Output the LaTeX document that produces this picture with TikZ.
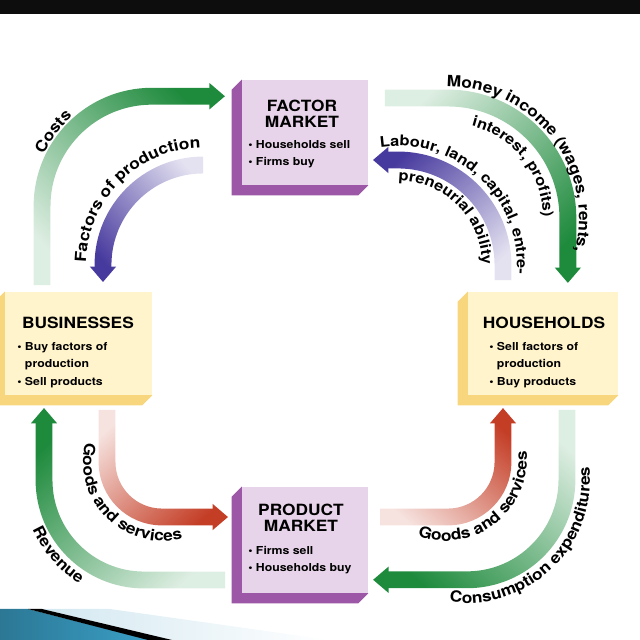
\documentclass[tikz,border=0pt]{standalone}
\usepackage{fontspec}
\setmainfont{TeX Gyre Heros}[FakeStretch=1.12]
\usetikzlibrary{arrows.meta,positioning,calc,fadings,decorations.text,backgrounds}

\definecolor{mktface}{HTML}{E8D4EA}
\definecolor{mktside}{HTML}{9C58A6}
\definecolor{hhface}{HTML}{FFF4CC}
\definecolor{hhside}{HTML}{F7D67D}
\definecolor{flowgreen}{HTML}{1E8A3C}
\definecolor{flowpurple}{HTML}{473A9E}
\definecolor{flowred}{HTML}{C43D25}
\definecolor{stripeblue}{HTML}{3A9FC6}
\definecolor{stripelight}{HTML}{D3E8F1}

\newcommand\ttlfont{\fontsize{11}{11.2}\selectfont\bfseries}
\newcommand\itmfont{\fontsize{7.8}{12.5}\selectfont\bfseries}
\newcommand\lblfont{\fontsize{11}{12}\selectfont\bfseries}
\newcommand\lblsmall{\fontsize{10.4}{12}\selectfont\bfseries}

\tikzfading[name=flowfade, left color=transparent!85, right color=transparent!0]

\tikzset{
  box/.style={rectangle, inner sep=0pt},
  ttl/.style={font=\ttlfont, align=center, inner sep=0pt},
  itm/.style={font=\itmfont, align=left, inner sep=0pt, anchor=west},
  flow/.style={line width=12pt, -{Triangle[width=18pt,length=11pt]}, path fading=flowfade},
  lbl/.style={decorate, decoration={text along path, text align=center}},
}

\begin{document}
\begin{tikzpicture}[x=0.025cm, y=0.025cm]
        \useasboundingbox (0,0) rectangle (640,640);
        \fill[black!95] (0,626) rectangle (640,640);

        % the four boxes
        \node[box, fill=mktface, minimum width=3.15cm, minimum height=2.625cm] (factor) at (305,507.5) {};
        \node[box, fill=hhface, minimum width=3.675cm, minimum height=2.575cm] (bus) at (78.5,296.5) {};
        \node[box, fill=hhface, minimum width=3.75cm, minimum height=2.575cm] (hh) at (543,296.5) {};
        \node[box, fill=mktface, minimum width=3.15cm, minimum height=2.65cm] (prod) at (305,100) {};

        \begin{scope}[on background layer]
                \foreach \n/\c in {factor/mktside, prod/mktside, bus/hhside, hh/hhside}{
                        \fill[\c] (\n.north west) -- ++(-10,-10) |- ($(\n.south east)+(-10,-10)$) -- (\n.south east) -- cycle;
                }
        \end{scope}

        \node[ttl] (factor-t) at (302,526.5) {FACTOR\\MARKET};
        \node[itm] (factor-l) at (248,486) {\textbullet\ Households sell\\\textbullet\ Firms buy};
        \node[ttl] (bus-t) at (78,317) {BUSINESSES};
        \node[itm] (bus-l) at (17,275) {\textbullet\ Buy factors of\\\hphantom{\textbullet\ }production\\\textbullet\ Sell products};
        \node[ttl] (hh-t) at (544,317) {HOUSEHOLDS};
        \node[itm] (hh-l) at (489,275) {\textbullet\ Sell factors of\\\hphantom{\textbullet\ }production\\\textbullet\ Buy products};
        \node[ttl] (prod-t) at (301,122.5) {PRODUCT\\MARKET};
        \node[itm] (prod-l) at (248,80) {\textbullet\ Firms sell\\\textbullet\ Households buy};

        % flow ends
        \coordinate (costs-s) at (42,355);   \coordinate (costs-e) at (225,544);
        \coordinate (fop-s) at (203,475);    \coordinate (fop-e) at (103,358);
        \coordinate (inc-s) at (385,542);    \coordinate (inc-e) at (568,357);
        \coordinate (lab-s) at (503,360);    \coordinate (lab-e) at (373,480);
        \coordinate (gl-s) at (107,230);     \coordinate (gl-e) at (228,123);
        \coordinate (rev-s) at (225,60);     \coordinate (rev-e) at (44,232);
        \coordinate (gr-s) at (380,123);     \coordinate (gr-e) at (503,232);
        \coordinate (con-s) at (567,230);    \coordinate (con-e) at (373,60);

        \draw[flow, flowgreen, rounded corners=2.75cm, fading angle=45] (costs-s) |- (costs-e);
        \draw[flow, flowpurple, rounded corners=2.5cm, fading angle=225] (fop-s) -| (fop-e);
        \draw[flow, flowgreen, rounded corners=3cm, fading angle=-45] (inc-s) -| (inc-e);
        \draw[flow, flowpurple, rounded corners=2.625cm, fading angle=135] (lab-s) |- (lab-e);
        \draw[flow, flowred, rounded corners=1.375cm, fading angle=-45] (gl-s) |- (gl-e);
        \draw[flow, flowgreen, rounded corners=2.5cm, fading angle=135] (rev-s) -| (rev-e);
        \draw[flow, flowred, rounded corners=1.375cm, fading angle=45] (gr-s) -| (gr-e);
        \draw[flow, flowgreen, rounded corners=2.5cm, fading angle=225] (con-s) |- (con-e);

        % labels along the flows
        \path[lbl, decoration={text={|\lblfont|Costs}}] ([shift={(173:120)}]152,434) arc[start angle=173, end angle=113, radius=120];
        \path[lbl, decoration={text={|\lblfont|Factors of production}}] ([shift={(200:117)}]203,375) arc[start angle=200, end angle=70, radius=117];
        \path[lbl, decoration={text={|\lblfont|Money income (wages, rents,}}] ([shift={(100:131)}]448,422) arc[start angle=100, end angle=-24, radius=131];
        \path[lbl, decoration={text={|\lblsmall|interest, profits)}}] ([shift={(90:95)}]448,422) arc[start angle=90, end angle=-14, radius=95];
        \path[lbl, decoration={text={|\lblsmall|Labour, land, capital, entre-}}] ([shift={(112:119)}]398,375) arc[start angle=112, end angle=-18, radius=119];
        \path[lbl, decoration={text={|\lblsmall|preneurial ability}}] ([shift={(115:84)}]398,375) arc[start angle=115, end angle=-25, radius=84];
        \path[lbl, decoration={text={|\lblfont|Goods and services}}] ([shift={(150:79)}]162,178) arc[start angle=150, end angle=301, radius=79];
        \path[lbl, decoration={text={|\lblfont|Revenue}}] ([shift={(191:122)}]144,160) arc[start angle=191, end angle=251, radius=122];
        \path[lbl, decoration={text={|\lblfont|Goods and services}}] ([shift={(232:82)}]445,181) arc[start angle=232, end angle=384, radius=82];
        \path[lbl, decoration={text={|\lblfont|Consumption expenditures}}] ([shift={(254:123)}]467,160) arc[start angle=254, end angle=374, radius=123];

        % corner stripes
        \shade[left color=stripelight, right color=white] (42,31) -- (110,31) -- (330,0) -- (172,0) -- cycle;
        \shade[left color=stripeblue!75!black, right color=stripeblue] (0,31) -- (28,31) -- (150,0) -- (0,0) -- cycle;
        \fill[black] (28,31) -- (42,31) -- (172,0) -- (148,0) -- cycle;
\end{tikzpicture}
\end{document}
